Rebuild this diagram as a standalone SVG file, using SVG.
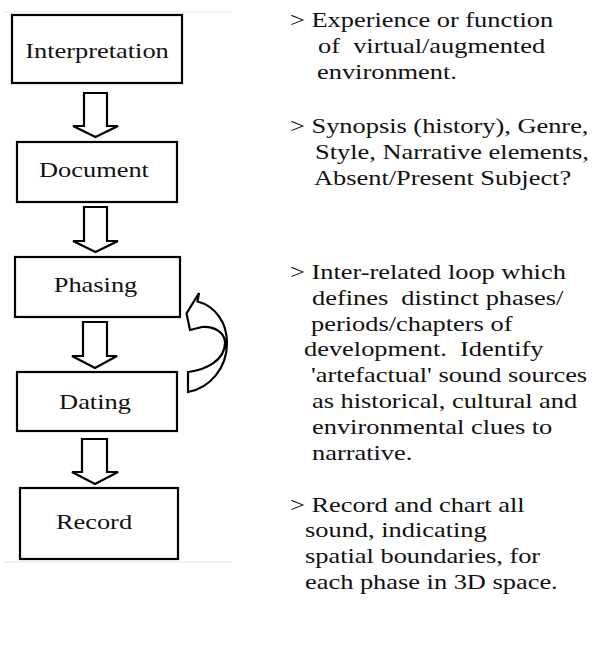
<svg xmlns="http://www.w3.org/2000/svg" width="592" height="645" viewBox="0 0 592 645">
<style>
.box{fill:#fff;stroke:#000;stroke-width:2.2}
.arr{fill:#fff;stroke:#000;stroke-width:2.2;stroke-linejoin:miter}
.lbl{font-family:Liberation Serif,DejaVu Serif,serif;font-size:22px;fill:#111;text-anchor:middle}
.txt{font-family:Liberation Serif,DejaVu Serif,serif;font-size:22px;fill:#111;white-space:pre}
.rule{stroke:#ececec;stroke-width:1.5}
</style>
<rect width="592" height="645" fill="#fff"/>
<line class="rule" x1="5" y1="12" x2="232" y2="12"/>
<line class="rule" x1="5" y1="562" x2="232" y2="562"/>
<g id="connectors">
<path class="arr" d="M84,93 H107 V126 H118 L95.5,137 L73,126 H84 Z"/>
<path class="arr" d="M84,207 H107 V241 H118 L95.5,252 L73,241 H84 Z"/>
<path class="arr" d="M83,322 H107 V356 H117 L95,368 L72,356 H83 Z"/>
<path class="arr" d="M82,439 H107 V472 H118 L95,484 L72,472 H82 Z"/>
<path id="loop" class="arr" d="M186.5,313.5 L199,293 L197.5,301.5 C215,306 227,322 227,343 C227,368 210,388 188,392 L188,372 C206,370 225,360 225,343 C225,333 215,326 202,327 L190,330 Z"/>
</g>
<g id="interpretation">
<rect class="box" x="12" y="15" width="170" height="68"/>
<text class="lbl" transform="translate(97,58) scale(1.2,1)">Interpretation</text>
</g>
<g id="document">
<rect class="box" x="17" y="142" width="160" height="60"/>
<text class="lbl" transform="translate(94,177) scale(1.2,1)">Document</text>
</g>
<g id="phasing">
<rect class="box" x="15" y="257" width="165" height="60"/>
<text class="lbl" transform="translate(95.5,292) scale(1.2,1)">Phasing</text>
</g>
<g id="dating">
<rect class="box" x="17" y="372" width="160" height="59"/>
<text class="lbl" transform="translate(95,409) scale(1.2,1)">Dating</text>
</g>
<g id="record">
<rect class="box" x="20" y="488" width="158" height="71"/>
<text class="lbl" transform="translate(94,529) scale(1.2,1)">Record</text>
</g>
<g id="notes">
<text class="txt" transform="translate(290,27) scale(1.2,1)">&gt; Experience or function</text>
<text class="txt" transform="translate(318,53) scale(1.2,1)">of  virtual/augmented</text>
<text class="txt" transform="translate(317,79) scale(1.2,1)">environment.</text>
<text class="txt" transform="translate(290,133) scale(1.2,1)">&gt; Synopsis (history), Genre,</text>
<text class="txt" transform="translate(315,159) scale(1.2,1)">Style, Narrative elements,</text>
<text class="txt" transform="translate(314,185) scale(1.2,1)">Absent/Present Subject?</text>
<text class="txt" transform="translate(290,279) scale(1.2,1)">&gt; Inter-related loop which</text>
<text class="txt" transform="translate(312,305) scale(1.2,1)">defines  distinct phases/</text>
<text class="txt" transform="translate(311,331) scale(1.2,1)">periods/chapters of</text>
<text class="txt" transform="translate(304,356) scale(1.2,1)">development.  Identify</text>
<text class="txt" transform="translate(311,382) scale(1.2,1)">'artefactual' sound sources</text>
<text class="txt" transform="translate(312,408) scale(1.2,1)">as historical, cultural and</text>
<text class="txt" transform="translate(312,434) scale(1.2,1)">environmental clues to</text>
<text class="txt" transform="translate(312,460) scale(1.2,1)">narrative.</text>
<text class="txt" transform="translate(290,512) scale(1.2,1)">&gt; Record and chart all</text>
<text class="txt" transform="translate(305,537) scale(1.2,1)">sound, indicating</text>
<text class="txt" transform="translate(305,563) scale(1.2,1)">spatial boundaries, for</text>
<text class="txt" transform="translate(305,589) scale(1.2,1)">each phase in 3D space.</text>
</g>
</svg>
